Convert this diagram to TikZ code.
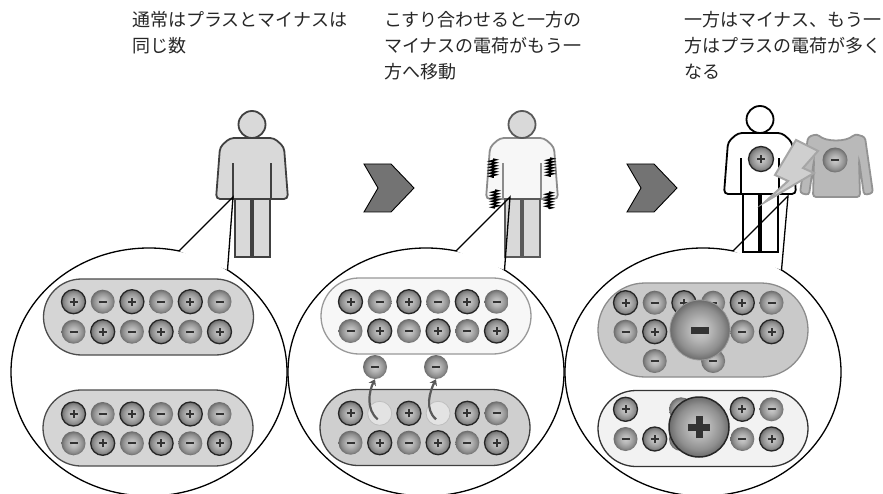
\documentclass[tikz,border=0pt]{standalone}
\usepackage{fontspec}
\newfontfamily\jpfont{Noto Sans CJK JP}
\usetikzlibrary{positioning,arrows.meta,shapes.misc,decorations.pathmorphing}

% soft grey sphere for every charge
\pgfdeclareradialshading{sphere}{\pgfpoint{0bp}{0bp}}{color(0bp)=(gray!40); color(9bp)=(gray!58); color(19bp)=(gray!88); color(25bp)=(black!58); color(50bp)=(black!58)}

\tikzset{
  chargesign/.style={line width=2pt,draw=black!80},
  ball/.style={circle,inner sep=0pt,minimum size=24pt,shading=sphere},
  ballp/.style={ball,draw=black!85,line width=1.3pt,
      path picture={\draw[chargesign]
        ([xshift=-4pt]path picture bounding box.center) -- ([xshift=4pt]path picture bounding box.center)
        ([yshift=-4pt]path picture bounding box.center) -- ([yshift=4pt]path picture bounding box.center);}},
  balln/.style={ball,
      path picture={\draw[chargesign]
        ([xshift=-4pt]path picture bounding box.center) -- ([xshift=4pt]path picture bounding box.center);}},
  bigp/.style={ball,minimum size=60pt,draw=black!85,line width=1.5pt,
      path picture={\draw[chargesign,line width=7pt]
        ([xshift=-11pt]path picture bounding box.center) -- ([xshift=11pt]path picture bounding box.center)
        ([yshift=-11pt]path picture bounding box.center) -- ([yshift=11pt]path picture bounding box.center);}},
  bign/.style={ball,minimum size=60pt,draw=gray!80,line width=0.8pt,
      path picture={\draw[chargesign,line width=7pt]
        ([xshift=-9pt]path picture bounding box.center) -- ([xshift=9pt]path picture bounding box.center);}},
  hole/.style={circle,inner sep=0pt,minimum size=24pt,fill=gray!22,draw=gray!50,line width=0.8pt},
  pill/.style={rounded rectangle,inner sep=0pt,minimum width=210pt,minimum height=76pt,line width=1.3pt},
  bubble/.style={fill=white,draw=black,line width=1.3pt},
  arrowshape/.style={fill=black!55,draw=black,line width=0.9pt,line join=miter},
  hop/.style={draw=black!65,line width=2.2pt,-{Stealth[length=6pt,width=8pt]}},
  rub/.style={draw=black,line width=1.5pt,decorate,
      decoration={zigzag,amplitude=3pt,segment length=3pt}},
  txt/.style={font=\jpfont\fontsize{18}{26}\selectfont,align=left,inner sep=0pt,text=black!85},
  bodycol/.style={fill=gray!30,draw=black!75,line width=1.8pt},
  legcol/.style={fill=gray!30,draw=black!75,line width=1.8pt},
  human/.pic={
    \draw[bodycol,rounded corners=4pt] (-36,199) -- (36,199) -- (32,147) -- (22,138)
         -- (-22,138) -- (-32,147) -- cycle;
    \draw[bodycol] (-19,199) -- (-19,163) (19,199) -- (19,163);
    \draw[legcol] (-17,199) rectangle (-1,257) (1,199) rectangle (18,257);
    \draw[legcol] (0,124.5) circle (13.5);
  }
}

\begin{document}
\begin{tikzpicture}[x=1pt,y=-1pt]
  \useasboundingbox (0,0) rectangle (883,494);

  % the three close-up bubbles
  \draw[bubble] (149,372) ellipse [x radius=138,y radius=124];
  \draw[bubble] (426,372) ellipse [x radius=138,y radius=124];
  \draw[bubble] (703,372) ellipse [x radius=138,y radius=124];
  \coordinate (tip1) at (233,197);  \coordinate (l1) at (179,251);  \coordinate (r1) at (227.5,270);
  \coordinate (tip2) at (510,197);  \coordinate (l2) at (456,251);  \coordinate (r2) at (504.5,270);
  \coordinate (tip3) at (788,196);  \coordinate (l3) at (733,251);  \coordinate (r3) at (781.5,270);
  \fill[white] (tip1) -- (l1) -- (r1) -- cycle;
  \fill[white] (tip2) -- (l2) -- (r2) -- cycle;
  \fill[white] (tip3) -- (l3) -- (r3) -- cycle;

  % step arrows
  \draw[arrowshape] (364,164) -- (391,164) -- (414,188) -- (391,212) -- (364,212) -- (378,188) -- cycle;
  \draw[arrowshape] (627,164) -- (654,164) -- (677,188) -- (654,212) -- (627,212) -- (641,188) -- cycle;

  % people
  \pic (man1) at (252,0) {human};
  \begin{scope}[bodycol/.style={fill=gray!6,draw=gray!90,line width=1.8pt},
                legcol/.style={fill=gray!30,draw=black!65,line width=1.8pt}]
    \pic (man2) at (522,0) {human};
  \end{scope}
  \draw[rub] (493,159) -- (493,178);
  \draw[rub] (550,158) -- (550,177);
  \draw[rub] (495,190) -- (495,208);
  \draw[rub] (549,192) -- (549,209);
  \begin{scope}[bodycol/.style={fill=white,draw=black,line width=1.8pt},
                legcol/.style={fill=white,draw=black,line width=1.8pt}]
    \pic (man3) at (760,-5) {human};
  \end{scope}
  \node[ballp,minimum size=25pt] (chest) at (761,159) {};

  % shirt and spark
  \draw[fill=gray!55,draw=gray!85,line width=1.8pt,rounded corners=3pt]
    (817,134) .. controls (826,142) and (846,142) .. (855,134) -- (865,137) -- (873,193)
    -- (864,195) -- (859,160) -- (860,197) -- (813,197) -- (814,160) -- (809,195)
    -- (800,193) -- (808,137) -- cycle;
  \node[balln,minimum size=25pt] (shirt) at (835,160) {};
  \draw[fill=gray!38,draw=gray!70,line width=2pt,line join=miter]
    (796,140) -- (818,151) -- (803,168) -- (814,173) -- (765,202) -- (788,181)
    -- (775,175) -- cycle;

  % bubble pointers
  \draw[line width=1.3pt] (l1) -- (tip1) -- (r1);
  \draw[line width=1.3pt] (l2) -- (tip2) -- (r2);
  \draw[line width=1.3pt] (l3) -- (tip3) -- (r3);

  % first bubble: same number of both charges
  \node[pill,fill=gray!33,draw=black!70] (p1a) at (148.5,317) {};
  \node[pill,fill=gray!33,draw=black!70] (p1b) at (148,428) {};
  \foreach \k/\s in {0/p,1/n,2/p,3/n,4/p,5/n} {
    \node[ball\s] (a\k) at (73.5+29.2*\k,301.7) {};
    \node[ball\s] (c\k) at (73.5+29.2*\k,414) {};
  }
  \foreach \k/\s in {0/n,1/p,2/n,3/p,4/n,5/p} {
    \node[ball\s] (b\k) at (73.5+29.2*\k,331.7) {};
    \node[ball\s] (d\k) at (73.5+29.2*\k,443.3) {};
  }

  % second bubble: electrons hop across
  \node[pill,fill=gray!6,draw=gray!80] (p2a) at (426,316) {};
  \node[pill,fill=gray!38,draw=black!75] (p2b) at (425,427.5) {};
  \foreach \k/\s in {0/p,1/n,2/p,3/n,4/p,5/n}
    \node[ball\s] (e\k) at (350.5+29.2*\k,301.7) {};
  \foreach \k/\s in {0/n,1/p,2/n,3/p,4/n,5/p} {
    \node[ball\s] (f\k) at (350.5+29.2*\k,331) {};
    \node[ball\s] (h\k) at (350.5+29.2*\k,442.7) {};
  }
  \foreach \k/\s in {0/p,2/p,4/p,5/n}
    \node[ball\s] (g\k) at (350.5+29.2*\k,413.3) {};
  \node[hole] (o1) at (379.7,413.3) {};
  \node[hole] (o2) at (438.1,413.3) {};
  \node[balln] (m1) at (375,367) {};
  \node[balln] (m2) at (436,367) {};
  \draw[hop] ([xshift=-2pt,yshift=-6pt]o1.center) .. controls +(-12,-10) and +(-6,12) .. (m1.south);
  \draw[hop] ([xshift=-2pt,yshift=-6pt]o2.center) .. controls +(-12,-10) and +(-6,12) .. (m2.south);

  % third bubble: one side charged minus, the other plus
  \node[pill,fill=gray!42,draw=gray!90,minimum height=94pt] (p3a) at (703,330) {};
  \node[pill,fill=gray!10,draw=black!80] (p3b) at (703,428.5) {};
  \foreach \k/\s in {0/p,1/n,2/p,3/n,4/p,5/n}
    \node[ball\s] (i\k) at (625.5+29.2*\k,302.7) {};
  \foreach \k/\s in {0/n,1/p,4/n,5/p}
    \node[ball\s] (j\k) at (625.5+29.2*\k,331.7) {};
  \foreach \k/\s in {1/n,3/n}
    \node[ball\s] (k\k) at (625.5+29.2*\k,361) {};
  \node[bign] (bigminus) at (700,330) {};
  \foreach \k/\s in {0/p,4/p,5/n}
    \node[ball\s] (q\k) at (625.5+29.2*\k,409.3) {};
  \foreach \k/\s in {0/n,1/p,4/n,5/p}
    \node[ball\s] (s\k) at (625.5+29.2*\k,439) {};
  \node[balln] (q2) at (681,409.3) {};
  \node[balln] (s2) at (681,439) {};
  \node[bigp] (bigplus) at (699,427) {};

  % captions
  \node[txt,anchor=north west] (t1) at (132,11) {通常はプラスとマイナスは\\同じ数};
  \node[txt,anchor=north west] (t2) at (384,11) {こすり合わせると一方の\\マイナスの電荷がもう一\\方へ移動};
  \node[txt,anchor=north west] (t3) at (684,11) {一方はマイナス、もう一\\方はプラスの電荷が多く\\なる};
\end{tikzpicture}
\end{document}
